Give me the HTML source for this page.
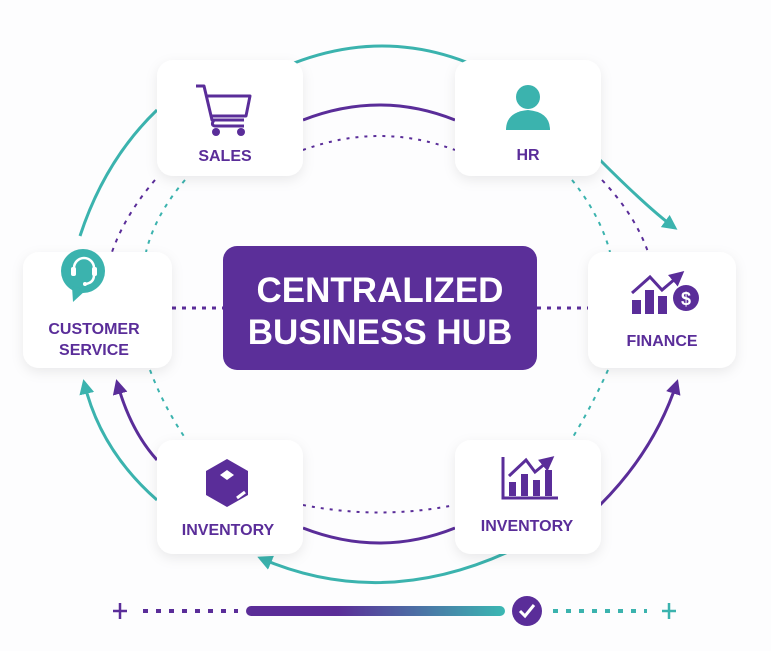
<!DOCTYPE html>
<html><head><meta charset="utf-8"><style>
html,body{margin:0;padding:0;background:#fdfdfe;}
body{width:771px;height:651px;overflow:hidden;position:relative;font-family:"Liberation Sans",sans-serif;}
svg{position:absolute;left:0;top:0}
</style></head><body>
<svg width="771" height="651" viewBox="0 0 771 651" xmlns="http://www.w3.org/2000/svg">
<defs>
<marker id="at" viewBox="0 0 10 10" refX="8" refY="5" markerWidth="5" markerHeight="5" orient="auto-start-reverse"><path d="M0,0 L10,5 L0,10 z" fill="#3bb3ae"/></marker>
<marker id="ap" viewBox="0 0 10 10" refX="8" refY="5" markerWidth="5" markerHeight="5" orient="auto-start-reverse"><path d="M0,0 L10,5 L0,10 z" fill="#5a2d99"/></marker>
<linearGradient id="g" x1="0" x2="1"><stop offset="0.35" stop-color="#5b2d98"/><stop offset="1" stop-color="#3bb8b3"/></linearGradient>
<filter id="sh" x="-20%" y="-20%" width="140%" height="150%"><feDropShadow dx="0" dy="4" stdDeviation="6" flood-color="#000" flood-opacity="0.08"/></filter>
</defs>
<g fill="none" stroke-width="3">
<path d="M250,84 Q380,10 504,80" stroke="#3bb3ae" marker-start="url(#at)" marker-end="url(#at)"/>
<path d="M303,120 Q380,90 455,120" stroke="#5a2d99"/>
<path d="M303,150 Q380,122 455,150" stroke="#5a2d99" stroke-width="2" stroke-dasharray="3 6"/>
<path d="M80,236 Q105,160 157,110" stroke="#3bb3ae"/>
<path d="M600,160 Q650,210 675,228" stroke="#3bb3ae" marker-end="url(#at)"/>
<path d="M508,552 Q380,610 260,558" stroke="#3bb3ae" marker-end="url(#at)"/>
<path d="M303,528 Q380,558 455,528" stroke="#5a2d99"/>
<path d="M303,505 Q380,520 455,505" stroke="#5a2d99" stroke-width="2" stroke-dasharray="3 6"/>
<path d="M157,500 Q100,450 84,382" stroke="#3bb3ae" marker-end="url(#at)"/>
<path d="M157,460 Q130,430 117,382" stroke="#5a2d99" marker-end="url(#ap)"/>
<path d="M600,505 Q655,450 677,382" stroke="#5a2d99" marker-end="url(#ap)"/>
<g stroke-width="2" stroke-dasharray="4 6">
<path d="M155,180 Q125,215 112,252" stroke="#5a2d99"/>
<path d="M185,180 Q155,215 146,252" stroke="#3bb3ae"/>
<path d="M150,370 Q165,410 190,445" stroke="#3bb3ae"/>
<path d="M602,180 Q635,215 648,252" stroke="#5a2d99"/>
<path d="M572,180 Q600,215 610,252" stroke="#3bb3ae"/>
<path d="M608,370 Q590,410 568,445" stroke="#3bb3ae"/>
</g>
<path d="M172,308 H223 M537,308 H588" stroke="#5a2d99" stroke-width="3" stroke-dasharray="4 6"/>
</g>
<g fill="#fff" filter="url(#sh)">
<rect x="157" y="60" width="146" height="116" rx="16"/>
<rect x="455" y="60" width="146" height="116" rx="16"/>
<rect x="23" y="252" width="149" height="116" rx="16"/>
<rect x="588" y="252" width="148" height="116" rx="16"/>
<rect x="157" y="440" width="146" height="114" rx="16"/>
<rect x="455" y="440" width="146" height="114" rx="16"/>
</g>
<rect x="223" y="246" width="314" height="124" rx="14" fill="#5b2f99"/>
<text x="380" y="302" text-anchor="middle" font-size="35" font-weight="bold" fill="#fff" font-family="Liberation Sans">CENTRALIZED</text>
<text x="380" y="344" text-anchor="middle" font-size="35" font-weight="bold" fill="#fff" font-family="Liberation Sans">BUSINESS HUB</text>
<g font-family="Liberation Sans" font-weight="bold" font-size="16" fill="#5a2d99" text-anchor="middle">
<text x="225" y="161">SALES</text>
<text x="528" y="160">HR</text>
<text x="94" y="334">CUSTOMER</text>
<text x="94" y="355">SERVICE</text>
<text x="662" y="346">FINANCE</text>
<text x="228" y="535">INVENTORY</text>
<text x="527" y="531">INVENTORY</text>
</g>
<g fill="none" stroke="#5a2d99" stroke-width="3" stroke-linejoin="round">
<path d="M196,86 H204 L212,120 H244 M206,96 H250 L246,116 H211"/>
<path d="M214,120 Q210,126 216,126 H244"/>
</g>
<circle cx="216" cy="132" r="4" fill="#5a2d99"/><circle cx="241" cy="132" r="4" fill="#5a2d99"/>
<circle cx="528" cy="97" r="12" fill="#3bb3ae"/>
<path d="M506,130 Q506,112 528,110 Q550,112 550,130 Z" fill="#3bb3ae"/>
<circle cx="83" cy="271" r="22" fill="#3bb3ae"/>
<path d="M72,286 L73,302 L86,290 Z" fill="#3bb3ae"/>
<path d="M74,275 V268 A10,10 0 0 1 94,268 V275 Q94,283 85,284" fill="none" stroke="#fff" stroke-width="2.5"/>
<rect x="71" y="267" width="5" height="9" rx="2" fill="#fff"/><rect x="92" y="267" width="5" height="9" rx="2" fill="#fff"/>
<circle cx="85" cy="284" r="2" fill="#fff"/>
<g fill="#5a2d99">
<rect x="632" y="300" width="9" height="14"/><rect x="645" y="290" width="9" height="24"/><rect x="658" y="296" width="9" height="18"/>
<circle cx="686" cy="298" r="13"/>
</g>
<path d="M632,293 L650,277 L662,290 L682,273" fill="none" stroke="#5a2d99" stroke-width="3" marker-end="url(#ap)"/>
<text x="686" y="305" text-anchor="middle" font-size="18" font-weight="bold" fill="#fff" font-family="Liberation Sans">$</text>
<path d="M227,459 L248,471 V495 L227,507 L206,495 V471 Z" fill="#5a2d99"/>
<path d="M227,470 L234,475 L227,480 L220,475 Z" fill="#fff"/>
<path d="M237,498 L245,492" stroke="#fff" stroke-width="3"/>
<path d="M503,457 V498 H558" fill="none" stroke="#5a2d99" stroke-width="3"/>
<g fill="#5a2d99"><rect x="509" y="482" width="7" height="14"/><rect x="521" y="474" width="7" height="22"/><rect x="533" y="480" width="7" height="16"/><rect x="545" y="470" width="7" height="26"/></g>
<path d="M509,476 L526,460 L535,472 L552,458" fill="none" stroke="#5a2d99" stroke-width="3" marker-end="url(#ap)"/>
<path d="M113,611 H127 M120,603 V619" stroke="#5a2d99" stroke-width="2.5"/>
<path d="M143,611 H238" stroke="#5a2d99" stroke-width="4" stroke-dasharray="5 8"/>
<rect x="246" y="606" width="259" height="10" rx="5" fill="url(#g)"/>
<circle cx="527" cy="611" r="15" fill="#5a2d99"/>
<path d="M520,611 L525,616 L534,605" fill="none" stroke="#fff" stroke-width="3"/>
<path d="M553,611 H647" stroke="#3bb3ae" stroke-width="4" stroke-dasharray="5 8"/>
<path d="M662,611 H676 M669,603 V619" stroke="#3bb3ae" stroke-width="2.5"/>
</svg>
</body></html>
